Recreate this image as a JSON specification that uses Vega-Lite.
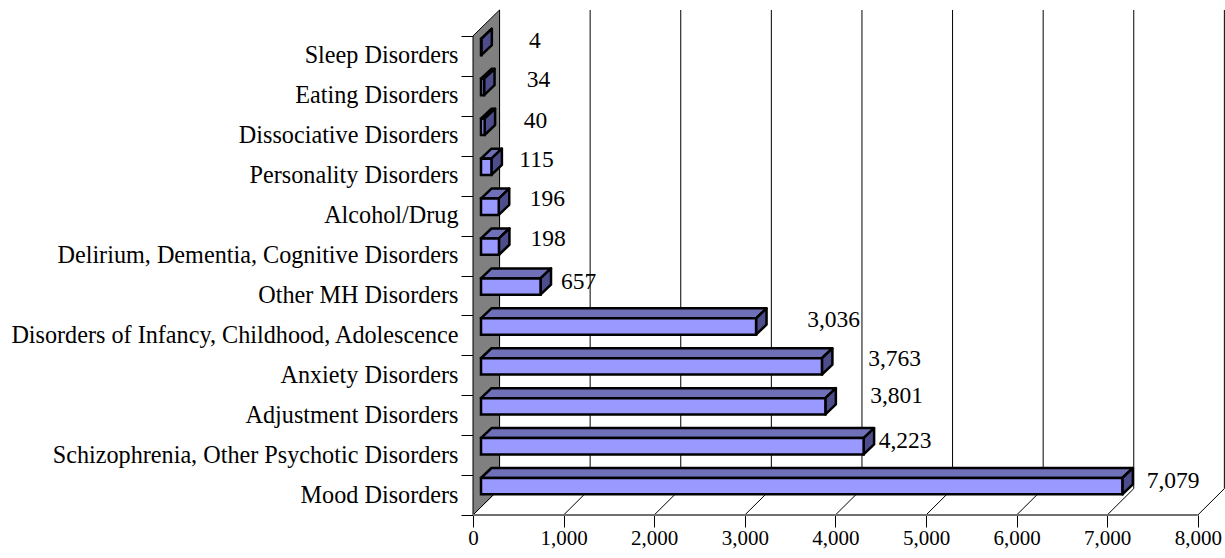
{"$schema":"https://vega.github.io/schema/vega-lite/v6.json","width":752,"height":515,"padding":{"left":473,"top":0,"right":0,"bottom":43},"autosize":{"type":"none"},"background":"white","config":{"view":{"stroke":null},"text":{"font":"Liberation Serif"},"axisX":{"grid":false,"domain":false,"title":null,"tickColor":"#000000","tickSize":12,"labelFont":"Liberation Serif","labelFontSize":21,"labelColor":"#000000","labelPadding":0,"labelFlush":false,"format":",.0f"}},
"datasets":{
"bars":[
{"category":"Sleep Disorders","value":4,"labelX":684,"labelLevel":11.87},
{"category":"Eating Disorders","value":34,"labelX":723,"labelLevel":10.9},
{"category":"Dissociative Disorders","value":40,"labelX":690,"labelLevel":9.87},
{"category":"Personality Disorders","value":115,"labelX":701,"labelLevel":8.89},
{"category":"Alcohol/Drug","value":196,"labelX":822,"labelLevel":7.92},
{"category":"Delirium, Dementia, Cognitive Disorders","value":198,"labelX":828,"labelLevel":6.91},
{"category":"Other MH Disorders","value":657,"labelX":1165,"labelLevel":5.84},
{"category":"Disorders of Infancy, Childhood, Adolescence","value":3036,"labelX":3980,"labelLevel":4.88},
{"category":"Anxiety Disorders","value":3763,"labelX":4653,"labelLevel":3.91},
{"category":"Adjustment Disorders","value":3801,"labelX":4676,"labelLevel":2.98},
{"category":"Schizophrenia, Other Psychotic Disorders","value":4223,"labelX":4769,"labelLevel":1.85},
{"category":"Mood Disorders","value":7079,"labelX":7728,"labelLevel":0.85}],
"faces":[
{"c":"Mood","lo":88,"hi":7167,"top":0.927,"bottom":0.519},{"c":"Mood","lo":204,"hi":7283,"top":1.177,"bottom":0.769},
{"c":"Schizophrenia","lo":88,"hi":4311,"top":1.927,"bottom":1.519},{"c":"Schizophrenia","lo":204,"hi":4427,"top":2.177,"bottom":1.769},
{"c":"Adjustment","lo":88,"hi":3889,"top":2.927,"bottom":2.519},{"c":"Adjustment","lo":204,"hi":4005,"top":3.177,"bottom":2.769},
{"c":"Anxiety","lo":88,"hi":3851,"top":3.927,"bottom":3.519},{"c":"Anxiety","lo":204,"hi":3967,"top":4.177,"bottom":3.769},
{"c":"Infancy","lo":88,"hi":3124,"top":4.927,"bottom":4.519},{"c":"Infancy","lo":204,"hi":3240,"top":5.177,"bottom":4.769},
{"c":"Other","lo":88,"hi":745,"top":5.927,"bottom":5.519},{"c":"Other","lo":204,"hi":861,"top":6.177,"bottom":5.769},
{"c":"Delirium","lo":88,"hi":286,"top":6.927,"bottom":6.519},{"c":"Delirium","lo":204,"hi":402,"top":7.177,"bottom":6.769},
{"c":"Alcohol","lo":88,"hi":284,"top":7.927,"bottom":7.519},{"c":"Alcohol","lo":204,"hi":400,"top":8.177,"bottom":7.769},
{"c":"Personality","lo":88,"hi":203,"top":8.927,"bottom":8.519},{"c":"Personality","lo":204,"hi":319,"top":9.177,"bottom":8.769},
{"c":"Dissociative","lo":88,"hi":128,"top":9.927,"bottom":9.519},{"c":"Dissociative","lo":204,"hi":244,"top":10.177,"bottom":9.769},
{"c":"Eating","lo":88,"hi":122,"top":10.927,"bottom":10.519},{"c":"Eating","lo":204,"hi":238,"top":11.177,"bottom":10.769},
{"c":"Sleep","lo":88,"hi":92,"top":11.927,"bottom":11.519},{"c":"Sleep","lo":204,"hi":208,"top":12.177,"bottom":11.769}],
"wall":[{"x":0,"top":12,"bottom":0},{"x":293,"top":12.65,"bottom":0.66}],
"grid":[{"tick":0,"back":293},{"tick":1000,"back":1293},{"tick":2000,"back":2293},{"tick":3000,"back":3293},{"tick":4000,"back":4293},{"tick":5000,"back":5293},{"tick":6000,"back":6293},{"tick":7000,"back":7293},{"tick":8000,"back":8293}]
},
"layer":[
{"layer":[
{"data":{"name":"wall"},"mark":{"type":"area","orient":"vertical","fill":"#808080","stroke":"#000000","strokeWidth":1},
 "encoding":{"x":{"field":"x","type":"quantitative","scale":{"domain":[0,8300],"nice":false},"axis":{"values":[0,1000,2000,3000,4000,5000,6000,7000,8000],"format":",.0f"}},
 "y":{"field":"top","type":"quantitative","scale":{"domain":[0,12.9],"nice":false},"axis":null},"y2":{"field":"bottom"}}},
{"data":{"name":"grid"},"mark":{"type":"rule","color":"#000000","strokeWidth":1},"encoding":{"x":{"field":"back","type":"quantitative"},"y":{"datum":0.66,"type":"quantitative","axis":null},"y2":{"datum":12.65}}},
{"data":{"name":"grid"},"mark":{"type":"rule","color":"#000000","strokeWidth":1},"encoding":{"x":{"field":"tick","type":"quantitative"},"x2":{"field":"back"},"y":{"datum":0,"type":"quantitative","axis":null},"y2":{"datum":0.66}}},
{"data":{"values":[{"a":0,"b":8000}]},"mark":{"type":"rule","color":"#707070","strokeWidth":2},"encoding":{"x":{"field":"a","type":"quantitative"},"x2":{"field":"b"},"y":{"datum":0,"type":"quantitative","axis":null}}},
{"data":{"name":"faces"},"mark":{"type":"area","orient":"horizontal","fill":"#7070b8","stroke":"#000000","strokeWidth":2.5,"strokeJoin":"round"},"encoding":{"detail":{"field":"c"},"x":{"field":"lo","type":"quantitative"},"x2":{"field":"hi"},"y":{"field":"top","type":"quantitative","axis":null}}},
{"data":{"name":"faces"},"mark":{"type":"area","orient":"vertical","fill":"#4d4d8c","stroke":"#000000","strokeWidth":2.5,"strokeJoin":"round"},"encoding":{"detail":{"field":"c"},"x":{"field":"hi","type":"quantitative"},"y":{"field":"top","type":"quantitative","axis":null},"y2":{"field":"bottom"}}},
{"data":{"name":"bars"},"mark":{"type":"text","fontSize":23.5,"font":"Liberation Serif","color":"#000000"},"encoding":{"x":{"field":"labelX","type":"quantitative"},"y":{"field":"labelLevel","type":"quantitative","axis":null},"text":{"field":"value","type":"quantitative","format":",.0f"}}}
]},
{"data":{"name":"bars"},"mark":{"type":"bar","fill":"#9999ff","stroke":"#000000","strokeWidth":2.5,"size":16.3,"xOffset":8,"yOffset":-8.9},
 "encoding":{"x":{"field":"value","type":"quantitative"},
 "y":{"field":"category","type":"nominal","sort":null,"scale":{"range":[36,515],"paddingInner":0,"paddingOuter":0},"axis":{"title":null,"domain":false,"grid":false,"ticks":true,"tickBand":"extent","tickColor":"#000000","tickSize":12,"labelFont":"Liberation Serif","labelFontSize":24.2,"labelColor":"#000000","labelPadding":3,"labelLimit":500,"labelOverlap":false}}}}
],
"resolve":{"scale":{"y":"independent"},"axis":{"y":"independent"}}}
